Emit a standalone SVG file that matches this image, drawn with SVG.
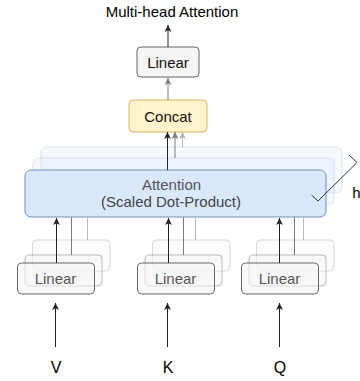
<svg xmlns="http://www.w3.org/2000/svg" width="360" height="381" viewBox="0 0 360 381">
  <style>
    text { font-family: "Liberation Sans", Arial, Helvetica, sans-serif; font-size: 15px; text-anchor: middle; }
    .io { font-size: 16px; }
    .lin { fill: #f5f5f5; stroke: #666666; stroke-width: 1; }
    .att { fill: #dae8fc; stroke: #6c8ebf; stroke-width: 1; }
    .cat { fill: #fff2cc; stroke: #d6b656; stroke-width: 1; }
    .dark { stroke: #222222; stroke-width: 1; fill: none; }
    .mid { stroke: #7a7a7a; stroke-width: 1; fill: none; }
    .light { stroke: #b8b8b8; stroke-width: 1; fill: none; }
    .ghost1 { opacity: 0.45; }
    .ghost2 { opacity: 0.25; }
  </style>
  <defs>
    <marker id="ahDark" viewBox="-8 -4 8 8" refX="0" refY="0" markerWidth="8" markerHeight="8" markerUnits="userSpaceOnUse" orient="auto">
      <path d="M0,0 L-7,-3.5 L-5.25,0 L-7,3.5 Z" fill="#222222"/>
    </marker>
    <marker id="ahMid" viewBox="-8 -4 8 8" refX="0" refY="0" markerWidth="8" markerHeight="8" markerUnits="userSpaceOnUse" orient="auto">
      <path d="M0,0 L-7,-3.5 L-5.25,0 L-7,3.5 Z" fill="#7a7a7a"/>
    </marker>
    <marker id="ahLight" viewBox="-8 -4 8 8" refX="0" refY="0" markerWidth="8" markerHeight="8" markerUnits="userSpaceOnUse" orient="auto">
      <path d="M0,0 L-7,-3.5 L-5.25,0 L-7,3.5 Z" fill="#b0b0b0"/>
    </marker>
  </defs>

  <!-- output label -->
  <g id="output">
    <text x="172" y="17" fill="#000">Multi-head Attention</text>
  </g>

  <!-- final projection -->
  <g id="linear-out">
    <rect class="lin" x="137" y="47" width="62" height="30" rx="4"/>
    <text x="168" y="67.5" fill="#111">Linear</text>
  </g>

  <!-- concatenation of heads -->
  <g id="concat">
    <rect class="cat" x="129" y="100" width="78" height="32" rx="4"/>
    <text x="168" y="121.5" fill="#111">Concat</text>
  </g>

  <!-- stacked attention heads -->
  <g id="attention">
    <rect class="att ghost2" x="41" y="147" width="301" height="46" rx="6"/>
    <rect class="att ghost2" x="33" y="158" width="301" height="47" rx="6"/>
    <rect class="att" x="25" y="170" width="301" height="47" rx="6"/>
    <text x="171.5" y="189.5" fill="#555">Attention</text>
    <text x="171" y="206.5" fill="#444">(Scaled Dot-Product)</text>
  </g>

  <!-- head count bracket -->
  <g id="heads">
    <path d="M349,155 L357,162.5 L318,201 L311.5,195" fill="none" stroke="#333" stroke-width="1"/>
    <text x="356.5" y="198" fill="#000">h</text>
  </g>

  <!-- value projections -->
  <g id="linear-v">
    <rect class="lin ghost2" x="32.5" y="240" width="77.5" height="31" rx="4"/>
    <rect class="lin ghost1" x="25" y="255" width="77" height="31" rx="4"/>
    <rect class="lin" x="17.5" y="263" width="77" height="31" rx="4" fill-opacity="0.6"/>
    <text x="55.5" y="284" fill="#555">Linear</text>
  </g>

  <!-- key projections -->
  <g id="linear-k">
    <rect class="lin ghost2" x="152.5" y="240" width="77.5" height="31" rx="4"/>
    <rect class="lin ghost1" x="145" y="255" width="77" height="31" rx="4"/>
    <rect class="lin" x="137.5" y="263" width="77" height="31" rx="4" fill-opacity="0.6"/>
    <text x="175.5" y="284" fill="#555">Linear</text>
  </g>

  <!-- query projections -->
  <g id="linear-q">
    <rect class="lin ghost2" x="256.5" y="240" width="77.5" height="31" rx="4"/>
    <rect class="lin ghost1" x="249" y="255" width="77" height="31" rx="4"/>
    <rect class="lin" x="241.5" y="263" width="77" height="31" rx="4" fill-opacity="0.6"/>
    <text x="279.5" y="284" fill="#555">Linear</text>
  </g>

  <!-- inputs -->
  <g id="inputs">
    <text class="io" x="56" y="373" fill="#000">V</text>
    <text class="io" x="168" y="373" fill="#000">K</text>
    <text class="io" x="280" y="373" fill="#000">Q</text>
  </g>

  <g id="connectors">
    <!-- output path -->
    <line class="dark" x1="168" y1="47" x2="168" y2="25" marker-end="url(#ahDark)"/>
    <line class="mid" x1="168" y1="100" x2="168" y2="78" marker-end="url(#ahMid)"/>
    <!-- heads into concat -->
    <line class="dark" x1="167.5" y1="170" x2="167.5" y2="132" marker-end="url(#ahDark)"/>
    <line class="mid" x1="175" y1="158" x2="175" y2="132" marker-end="url(#ahMid)"/>
    <line class="light" x1="182.5" y1="147" x2="182.5" y2="132" marker-end="url(#ahLight)"/>
    <!-- projections into attention -->
    <line class="dark" x1="56.5" y1="263" x2="56.5" y2="218" marker-end="url(#ahDark)"/>
    <line class="mid" x1="71.5" y1="255" x2="71.5" y2="217"/>
    <line class="light" x1="87.5" y1="240" x2="87.5" y2="217"/>
    <line class="dark" x1="168.5" y1="263" x2="168.5" y2="218" marker-end="url(#ahDark)"/>
    <line class="mid" x1="183.5" y1="255" x2="183.5" y2="217"/>
    <line class="light" x1="195.5" y1="240" x2="195.5" y2="217"/>
    <line class="dark" x1="279.5" y1="263" x2="279.5" y2="218" marker-end="url(#ahDark)"/>
    <line class="mid" x1="294.5" y1="255" x2="294.5" y2="217"/>
    <line class="light" x1="303.5" y1="240" x2="303.5" y2="217"/>
    <!-- inputs into projections -->
    <line class="dark" x1="55.5" y1="347" x2="55.5" y2="303" marker-end="url(#ahDark)"/>
    <line class="dark" x1="167.5" y1="347" x2="167.5" y2="303" marker-end="url(#ahDark)"/>
    <line class="dark" x1="279.5" y1="347" x2="279.5" y2="303" marker-end="url(#ahDark)"/>
  </g>
</svg>
